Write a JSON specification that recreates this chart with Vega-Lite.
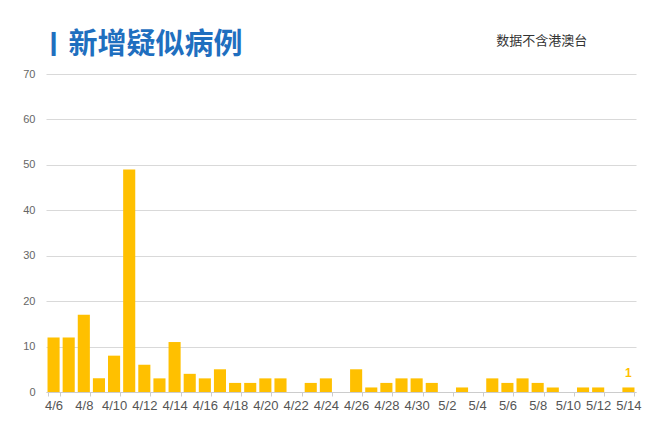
{
  "$schema": "https://vega.github.io/schema/vega-lite/v6.json",
  "width": 590,
  "height": 318,
  "autosize": {"type": "none"},
  "padding": {"left": 46, "top": 74, "right": 13, "bottom": 39},
  "background": "white",
  "config": {
    "view": {"stroke": null},
    "font": "Liberation Sans"
  },
  "datasets": {
    "cases": [
      {"date": "4/6", "value": 12, "marker": "❙", "title": "新增疑似病例"},
      {"date": "4/7", "value": 12},
      {"date": "4/8", "value": 17},
      {"date": "4/9", "value": 3},
      {"date": "4/10", "value": 8},
      {"date": "4/11", "value": 49},
      {"date": "4/12", "value": 6},
      {"date": "4/13", "value": 3},
      {"date": "4/14", "value": 11},
      {"date": "4/15", "value": 4},
      {"date": "4/16", "value": 3},
      {"date": "4/17", "value": 5},
      {"date": "4/18", "value": 2},
      {"date": "4/19", "value": 2},
      {"date": "4/20", "value": 3},
      {"date": "4/21", "value": 3},
      {"date": "4/22", "value": 0},
      {"date": "4/23", "value": 2},
      {"date": "4/24", "value": 3},
      {"date": "4/25", "value": 0},
      {"date": "4/26", "value": 5},
      {"date": "4/27", "value": 1},
      {"date": "4/28", "value": 2},
      {"date": "4/29", "value": 3},
      {"date": "4/30", "value": 3},
      {"date": "5/1", "value": 2},
      {"date": "5/2", "value": 0},
      {"date": "5/3", "value": 1},
      {"date": "5/4", "value": 0},
      {"date": "5/5", "value": 3},
      {"date": "5/6", "value": 2},
      {"date": "5/7", "value": 3},
      {"date": "5/8", "value": 2, "note": "数据不含港澳台"},
      {"date": "5/9", "value": 1},
      {"date": "5/10", "value": 0},
      {"date": "5/11", "value": 1},
      {"date": "5/12", "value": 1},
      {"date": "5/13", "value": 0},
      {"date": "5/14", "value": 1, "label": "1"}
    ]
  },
  "data": {"name": "cases"},
  "encoding": {
    "x": {
      "field": "date",
      "type": "nominal",
      "sort": null,
      "scale": {"paddingInner": 0.2, "paddingOuter": 0.1},
      "axis": {
        "title": null,
        "labelAngle": 0,
        "values": ["4/6","4/8","4/10","4/12","4/14","4/16","4/18","4/20","4/22","4/24","4/26","4/28","4/30","5/2","5/4","5/6","5/8","5/10","5/12","5/14"],
        "tickBand": "extent",
        "tickSize": 4,
        "tickColor": "#cccccc",
        "domainColor": "#cccccc",
        "labelFontSize": 13,
        "labelColor": "#555555",
        "labelPadding": 3,
        "labelFont": "Liberation Sans"
      }
    },
    "y": {
      "field": "value",
      "type": "quantitative",
      "scale": {"domain": [0, 70], "nice": false},
      "axis": {
        "title": null,
        "values": [0, 10, 20, 30, 40, 50, 60, 70],
        "domain": false,
        "ticks": false,
        "gridColor": "#d9d9d9",
        "labelFontSize": 11,
        "labelColor": "#666666",
        "labelPadding": 11,
        "labelFont": "Liberation Sans"
      }
    }
  },
  "layer": [
    {"mark": {"type": "bar", "color": "#ffc000"}},
    {
      "transform": [{"filter": "isValid(datum.label)"}],
      "mark": {"type": "text", "color": "#ffc000", "fontWeight": "bold", "fontSize": 12, "baseline": "bottom", "dy": -7},
      "encoding": {"text": {"field": "label"}}
    },
    {
      "transform": [{"filter": "isValid(datum.note)"}],
      "mark": {"type": "text", "font": "Noto Sans CJK SC", "fontSize": 13, "color": "#333333", "baseline": "middle", "dy": -33, "dx": 4},
      "encoding": {
        "y": {"datum": 70},
        "text": {"field": "note"}
      }
    },
    {
      "transform": [{"filter": "isValid(datum.marker)"}],
      "mark": {"type": "text", "font": "DejaVu Sans", "fontSize": 24, "color": "#1f6fbf", "align": "center", "baseline": "middle", "dy": -31, "dx": 0},
      "encoding": {
        "y": {"datum": 70},
        "text": {"field": "marker"}
      }
    },
    {
      "transform": [{"filter": "isValid(datum.title)"}],
      "mark": {"type": "text", "font": "Noto Sans CJK SC", "fontSize": 29, "fontWeight": "bold", "color": "#1f6fbf", "align": "left", "baseline": "middle", "dy": -29, "dx": 15},
      "encoding": {
        "y": {"datum": 70},
        "text": {"field": "title"}
      }
    }
  ]
}
